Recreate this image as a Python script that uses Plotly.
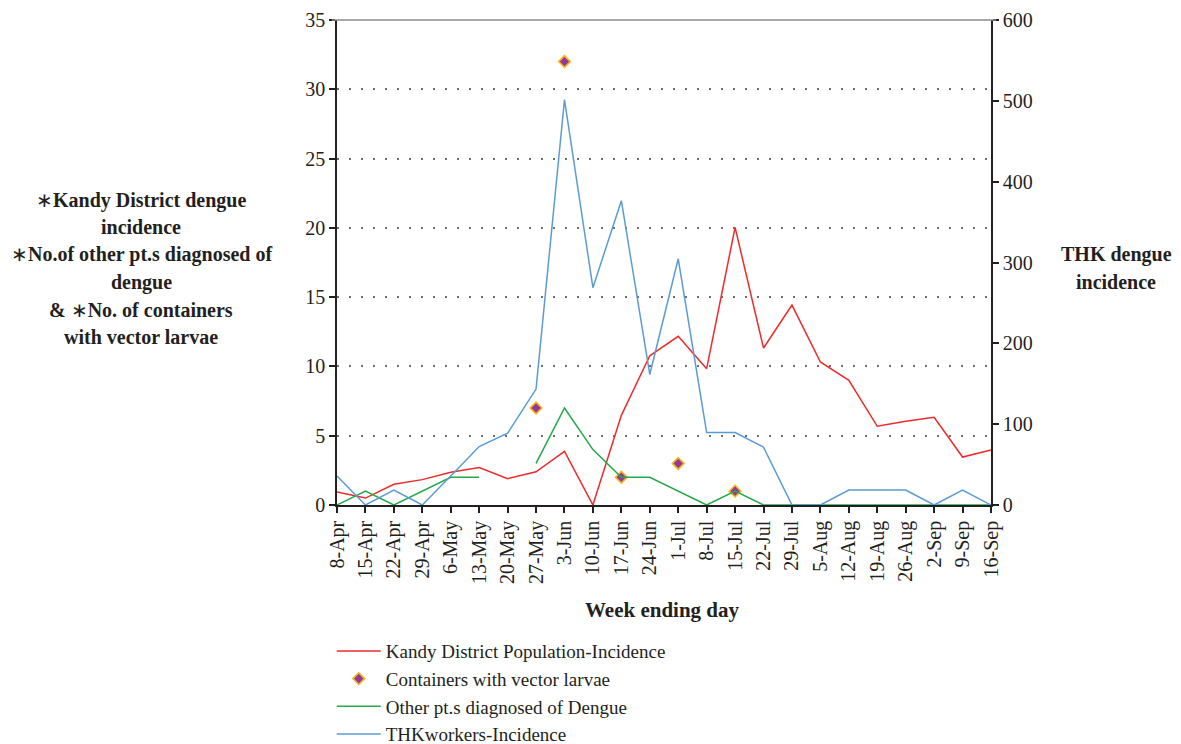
import plotly.graph_objects as go

weeks = ["8-Apr", "15-Apr", "22-Apr", "29-Apr", "6-May", "13-May", "20-May", "27-May",
         "3-Jun", "10-Jun", "17-Jun", "24-Jun", "1-Jul", "8-Jul", "15-Jul", "22-Jul",
         "29-Jul", "5-Aug", "12-Aug", "19-Aug", "26-Aug", "2-Sep", "9-Sep", "16-Sep"]

kandy = [0.94, 0.5, 1.5, 1.83, 2.36, 2.7, 1.9, 2.4, 3.87, 0.0, 6.47, 10.77,
         12.17, 9.84, 20.03, 11.33, 14.43, 10.32, 9.0, 5.68, 6.04, 6.33, 3.46, 3.97]

containers = [None, None, None, None, None, None, None, 7, 32, None, 2, None,
              3, None, 1, None, None, None, None, None, None, None, None, None]

other_pts = [0, 1, 0, 1, 2, 2, None, 3, 7, 4, 2, 2,
             1, 0, 1, 0, 0, 0, 0, 0, 0, 0, 0, 0]

thk = [36, 0, 18.5, 0, 36, 72.3, 88.8, 143.4, 501.4, 268.8, 376.5, 161.5,
       304.6, 89.6, 89.6, 71.5, 0, 0, 18.5, 18.5, 18.5, 0, 18.5, 0]

FONT = "Liberation Serif"
TXT = "#231f20"

fig = go.Figure()
fig.add_trace(go.Scatter(x=weeks, y=kandy, mode="lines", name="Kandy District Population-Incidence",
                         line=dict(color="#ee2a2a", width=1.5)))
fig.add_trace(go.Scatter(x=weeks, y=containers, mode="markers", name="Containers with vector larvae",
                         marker=dict(symbol="diamond", size=9, color="#93399a",
                                     line=dict(color="#f7b51c", width=1.6))))
fig.add_trace(go.Scatter(x=weeks, y=other_pts, mode="lines", name="Other pt.s diagnosed of Dengue",
                         line=dict(color="#23a84a", width=1.5), connectgaps=False))
fig.add_trace(go.Scatter(x=weeks, y=thk, mode="lines", name="THKworkers-Incidence",
                         line=dict(color="#5b9bd5", width=1.5), yaxis="y2"))

fig.update_layout(
    width=1181, height=744,
    margin=dict(l=329, r=198, t=12, b=247, autoexpand=False),
    paper_bgcolor="white", plot_bgcolor="white",
    font=dict(family=FONT, size=20, color=TXT),
    showlegend=True,
    legend=dict(x=-0.008, y=-0.262, xanchor="left", yanchor="top",
                font=dict(family=FONT, size=19, color=TXT),
                tracegroupgap=0, itemwidth=44, bgcolor="rgba(0,0,0,0)"),
    xaxis=dict(type="category", range=[0, 23], showline=True, linecolor="#231f20", linewidth=1.5,
               ticks="outside", ticklen=6, tickcolor="#231f20", tickwidth=1.5,
               tickangle=-90, tickfont=dict(family=FONT, size=20, color=TXT),
               showgrid=False, zeroline=False),
    yaxis=dict(range=[0, 35], dtick=5, showline=True, linecolor="#231f20", linewidth=1.5,
               ticks="outside", ticklen=6, tickcolor="#231f20", tickwidth=1.5,
               tickfont=dict(family=FONT, size=20, color=TXT),
               showgrid=True, gridcolor="#6d6d6d", gridwidth=1.5, griddash="1.5px,10.5px",
               zeroline=False),
    yaxis2=dict(range=[0, 600], dtick=100, overlaying="y", side="right", showline=True,
                linecolor="#231f20", linewidth=1.5, ticks="outside", ticklen=6,
                tickcolor="#231f20", tickwidth=1.5,
                tickfont=dict(family=FONT, size=20, color=TXT),
                showgrid=False, zeroline=False),
)

# top border of the plot area
fig.add_shape(type="line", xref="paper", yref="paper", x0=-0.008, x1=1.008, y0=1, y1=1,
              line=dict(color="#8a8a8a", width=1.5))

# x-axis title
fig.add_annotation(text="<b>Week ending day</b>", xref="paper", yref="paper",
                   x=(662 - 337) / 654, y=(505 - 610) / 485, xanchor="center", yanchor="middle",
                   showarrow=False, font=dict(family=FONT, size=21, color=TXT))

left_lines = ["∗<b>Kandy District dengue</b>", "<b>incidence</b>",
              "∗<b>No.of other pt.s diagnosed of</b>", "<b>dengue</b>",
              "<b>& </b>∗<b>No. of containers</b>", "<b>with vector larvae</b>"]
left_y = [200, 227.3, 254.5, 282, 309.5, 337]
for txt, py in zip(left_lines, left_y):
    fig.add_annotation(text=txt, xref="paper", yref="paper",
                       x=(141 - 337) / 654, y=(505 - py) / 485, xanchor="center", yanchor="middle",
                       showarrow=False, font=dict(family=FONT, size=20, color=TXT))

for txt, py in zip(["THK dengue", "incidence"], [254.5, 282]):
    fig.add_annotation(text="<b>" + txt + "</b>", xref="paper", yref="paper",
                       x=(1116 - 337) / 654, y=(505 - py) / 485, xanchor="center", yanchor="middle",
                       showarrow=False, font=dict(family=FONT, size=20, color=TXT))

fig.write_html("out.html")
